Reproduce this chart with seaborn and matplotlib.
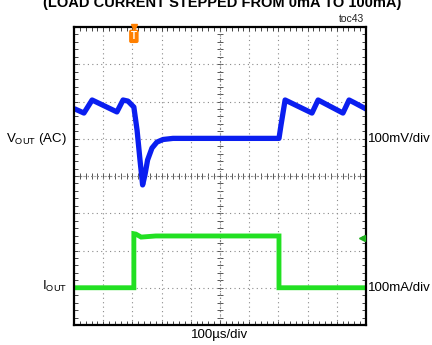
import matplotlib
matplotlib.use("Agg")
import matplotlib.pyplot as plt
import seaborn as sns
import numpy as np
import pandas as pd

# ---- data (x in divisions of 100 us, y in screen divisions) ----
vout_x = [0.03, 0.34, 0.62, 1.47, 1.68, 1.85, 2.05, 2.16, 2.26, 2.35, 2.43, 2.52,
          2.67, 2.84, 3.05, 3.39, 7.02, 7.09, 7.23, 8.15, 8.36, 9.21, 9.42, 9.62, 10.0]
vout_y = [5.80, 5.69, 6.04, 5.72, 6.04, 6.01, 5.85, 5.23, 4.43, 3.76, 4.03, 4.43,
          4.75, 4.91, 4.98, 5.01, 5.01, 5.37, 6.04, 5.69, 6.04, 5.69, 6.04, 5.96, 5.80]
iout_x = [0.0, 2.05, 2.05, 2.12, 2.30, 2.80, 7.02, 7.02, 10.0]
iout_y = [1.00, 1.00, 2.45, 2.44, 2.36, 2.39, 2.39, 1.00, 1.00]

title = "(LOAD CURRENT STEPPED FROM 0mA TO 100mA)"
toc_label = "toc43"
vout_label = r"V$_{\mathrm{OUT}}$ (AC)"
iout_label = r"I$_{\mathrm{OUT}}$"
vscale = "100mV/div"
iscale = "100mA/div"
tscale = "100\u00b5s/div"
trigger_x = 2.05

sns.set_theme(style="white")
plt.rcParams["font.family"] = ["Liberation Sans", "DejaVu Sans"]
plt.rcParams["mathtext.fontset"] = "custom"
plt.rcParams["mathtext.rm"] = "Liberation Sans"

W, H = 432, 345
fig = plt.figure(figsize=(W / 100, H / 100), dpi=100)
fig.patch.set_facecolor("white")
ax = fig.add_axes([74 / W, 20 / H, 292 / W, 298 / H])
ax.set_facecolor("white")

vdf = pd.DataFrame({"t": vout_x, "v": vout_y})
idf = pd.DataFrame({"t": iout_x, "i": iout_y})
sns.lineplot(data=idf, x="t", y="i", ax=ax, color="#22E022", lw=3.5,
             estimator=None, sort=False, solid_joinstyle="miter")
sns.lineplot(data=vdf, x="t", y="v", ax=ax, color="#0A1EF0", lw=3.8,
             estimator=None, sort=False)

ax.set_xlim(0, 10)
ax.set_ylim(0, 8)
ax.set_xlabel("")
ax.set_ylabel("")
ax.set_xticks(np.arange(0, 11, 1))
ax.set_yticks(np.arange(0, 9, 1))
ax.set_xticks(np.arange(0, 10.01, 0.2), minor=True)
ax.set_yticks(np.arange(0, 8.01, 0.2), minor=True)
ax.tick_params(which="both", direction="in", length=3, width=0.7, color="#444444",
               top=True, bottom=True, left=True, right=True,
               labelbottom=False, labelleft=False)
ax.grid(True, which="major", color="#8a8a8a", ls=(0, (1, 3)), lw=0.8)
for s in ax.spines.values():
    s.set_color("black")
    s.set_linewidth(1.6)

# centre cross-hair with ticks
ax.axhline(4, color="#777777", ls=(0, (1, 2)), lw=0.8, zorder=0.5)
ax.axvline(5, color="#777777", ls=(0, (1, 2)), lw=0.8, zorder=0.5)
secx = ax.secondary_xaxis(0.5)
secx.set_xticks(np.arange(0, 10.01, 0.2))
secx.tick_params(direction="inout", length=5, width=0.7, color="#555555",
                 labelbottom=False, labeltop=False)
secy = ax.secondary_yaxis(0.5)
secy.set_yticks(np.arange(0, 8.01, 0.2))
secy.tick_params(direction="inout", length=5, width=0.7, color="#555555",
                 labelleft=False, labelright=False)
for sa in (secx, secy):
    for s in sa.spines.values():
        s.set_visible(False)

# trigger marker
ax.plot([trigger_x], [8.0], marker="v", ms=5, color="#FF7F00", clip_on=False, zorder=5)
ax.text(trigger_x, 7.75, "T", color="white", fontsize=7, fontweight="bold",
        ha="center", va="center", zorder=6,
        bbox=dict(boxstyle="round,pad=0.18,rounding_size=0.2", fc="#FF7F00", ec="none"))
# channel marker
ax.plot([9.86], [2.34], marker="<", ms=4, color="#1EB01E", zorder=5)

def fx(px):
    return px / W

def fy(py):
    return 1 - py / H

fig.text(fx(222), fy(7), title, ha="center", va="baseline", fontsize=10.5,
         fontweight="bold", color="black")
fig.text(fx(364), fy(19), toc_label, ha="right", va="center", fontsize=7.5, color="#222222")
fig.text(fx(67), fy(139), vout_label, ha="right", va="center", fontsize=9.5, color="black")
fig.text(fx(67), fy(286), iout_label, ha="right", va="center", fontsize=9.5, color="black")
fig.text(fx(368), fy(139), vscale, ha="left", va="center", fontsize=9.5, color="black")
fig.text(fx(368), fy(288), iscale, ha="left", va="center", fontsize=9.5, color="black")
fig.text(fx(220), fy(335), tscale, ha="center", va="center", fontsize=9.5, color="black")

fig.savefig("out.png", dpi=100, facecolor="white")
